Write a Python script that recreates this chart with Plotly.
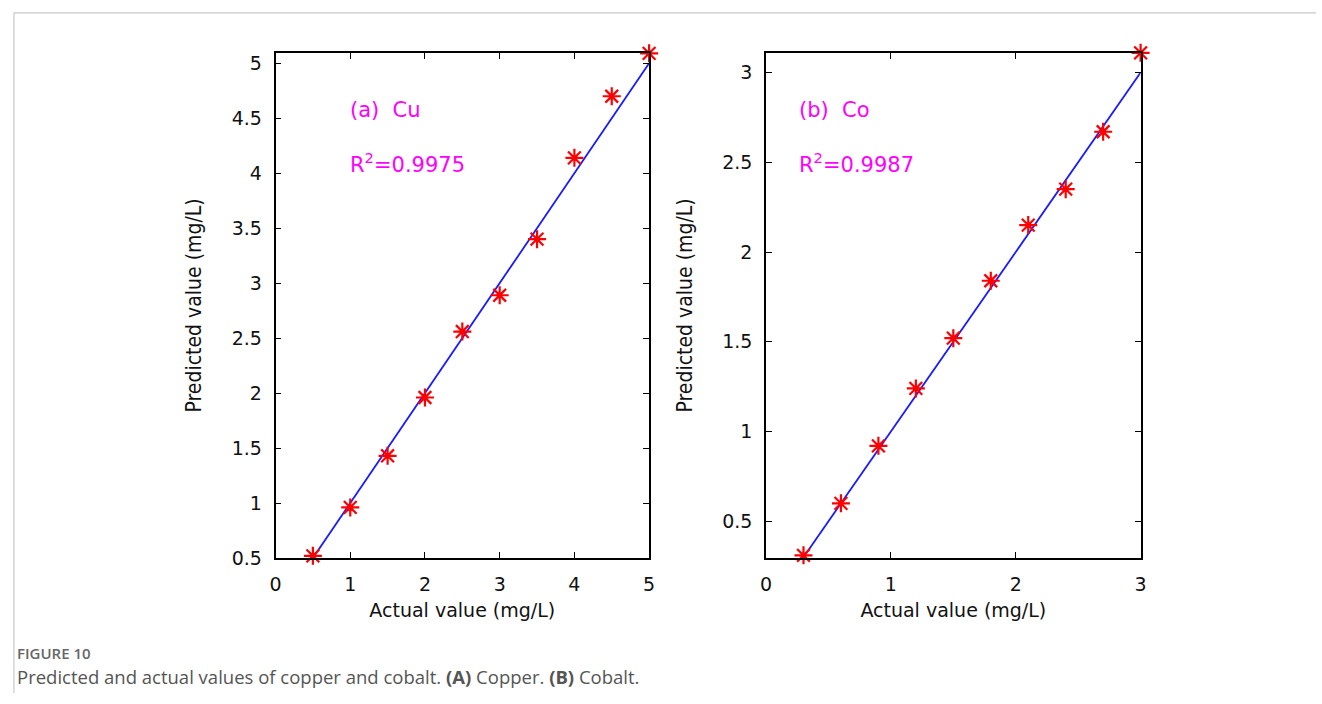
import plotly.graph_objects as go

# Data
cu_actual = [0.5, 1.0, 1.5, 2.0, 2.5, 3.0, 3.5, 4.0, 4.5, 5.0]
cu_pred = [0.52, 0.96, 1.43, 1.96, 2.56, 2.89, 3.40, 4.14, 4.70, 5.09]
co_actual = [0.3, 0.6, 0.9, 1.2, 1.5, 1.8, 2.1, 2.4, 2.7, 3.0]
co_pred = [0.31, 0.60, 0.92, 1.24, 1.52, 1.84, 2.15, 2.35, 2.67, 3.11]
cu_fit = [0.5, 5.0]
co_fit = [0.3, 3.0]
cu_ticks_x = [0, 1, 2, 3, 4, 5]
cu_ticks_y = [0.5, 1, 1.5, 2, 2.5, 3, 3.5, 4, 4.5, 5]
co_ticks_x = [0, 1, 2, 3]
co_ticks_y = [0.5, 1, 1.5, 2, 2.5, 3]

W, H = 1322, 704
FONT = "DejaVu Sans, Verdana, sans-serif"
NARROW = "Liberation Sans Narrow, DejaVu Sans Condensed, Arial Narrow, Liberation Sans, sans-serif"
MAG = "#ff00ff"

fig = go.Figure()

def add_panel(xa, ya, actual, pred, fit):
    fig.add_trace(go.Scatter(x=fit, y=fit, mode="lines",
                             line=dict(color="#1a1aff", width=1.8),
                             xaxis=xa, yaxis=ya, showlegend=False, hoverinfo="skip"))
    fig.add_trace(go.Scatter(x=actual, y=pred, mode="markers",
                             marker=dict(symbol="asterisk-open", size=15, color="#ff0000",
                                         line=dict(color="#ff0000", width=2.2)),
                             xaxis=xa, yaxis=ya, showlegend=False, cliponaxis=False))

add_panel("x", "y", cu_actual, cu_pred, cu_fit)
add_panel("x2", "y2", co_actual, co_pred, co_fit)

ax_common = dict(showline=True, linecolor="black", linewidth=1.6, mirror="ticks",
                 ticks="inside", ticklen=6, tickwidth=1.3, tickcolor="black",
                 showgrid=False, zeroline=False,
                 tickfont=dict(family=FONT, size=19, color="#111"))

ydom = [1 - 566.7 / H, 1 - 52.7 / H]
xtitle = dict(text="Actual value (mg/L)", font=dict(family=FONT, size=19, color="#111"), standoff=10)
ytitle = dict(text="Predicted value (mg/L)", font=dict(family=NARROW, size=21, color="#111"), standoff=24)

fig.update_layout(
    width=W, height=H, margin=dict(l=0, r=0, t=0, b=0),
    paper_bgcolor="white", plot_bgcolor="white",
    xaxis=dict(domain=[272 / W, 649 / W], range=[0, 5], tickvals=cu_ticks_x,
               ticktext=[str(v) for v in cu_ticks_x], anchor="y", ticklabelstandoff=8,
               title=xtitle, **ax_common),
    yaxis=dict(domain=ydom, range=[0.5, 5.095], tickvals=cu_ticks_y,
               ticktext=[f"{v:g}" for v in cu_ticks_y], anchor="x", ticklabelstandoff=8,
               title=ytitle, **ax_common),
    xaxis2=dict(domain=[767 / W, 1145 / W], range=[0, 3], tickvals=co_ticks_x,
                ticktext=[str(v) for v in co_ticks_x], anchor="y2", ticklabelstandoff=8,
                title=xtitle, **ax_common),
    yaxis2=dict(domain=ydom, range=[0.295, 3.11], tickvals=co_ticks_y,
                ticktext=[f"{v:g}" for v in co_ticks_y], anchor="x2", ticklabelstandoff=8,
                title=ytitle, **ax_common),
)

ann_font = dict(family=FONT, size=21, color=MAG)
fig.add_annotation(x=0.97, y=4.574, xref="x", yref="y", text="(a)  Cu", showarrow=False,
                   xanchor="left", font=ann_font)
fig.add_annotation(x=0.97, y=4.09, xref="x", yref="y", text="R<sup>2</sup>=0.9975", showarrow=False,
                   xanchor="left", font=ann_font)
fig.add_annotation(x=0.25, y=2.79, xref="x2", yref="y2", text="(b)  Co", showarrow=False,
                   xanchor="left", font=ann_font)
fig.add_annotation(x=0.25, y=2.494, xref="x2", yref="y2", text="R<sup>2</sup>=0.9987", showarrow=False,
                   xanchor="left", font=ann_font)

# caption
fig.add_annotation(x=9 / W, y=1 - 663 / H, xref="paper", yref="paper", text="FIGURE 10",
                   showarrow=False, xanchor="left", yanchor="middle",
                   font=dict(family="Open Sans, sans-serif", size=15, color="#666", weight=600))
fig.add_annotation(x=9 / W, y=1 - 687 / H, xref="paper", yref="paper",
                   text="Predicted and actual values of copper and cobalt. <b>(A)</b> Copper. <b>(B)</b> Cobalt.",
                   showarrow=False, xanchor="left", yanchor="middle",
                   font=dict(family="Open Sans, sans-serif", size=18.5, color="#555"))

# frame lines
fig.add_shape(type="line", xref="paper", yref="paper", x0=8 / W, x1=1, y0=1 - 12 / H, y1=1 - 12 / H,
              line=dict(color="#c8c8c8", width=1.2))
fig.add_shape(type="line", xref="paper", yref="paper", x0=8 / W, x1=8 / W, y0=0, y1=1 - 12 / H,
              line=dict(color="#c8c8c8", width=1.2))

fig.write_html("out.html")
